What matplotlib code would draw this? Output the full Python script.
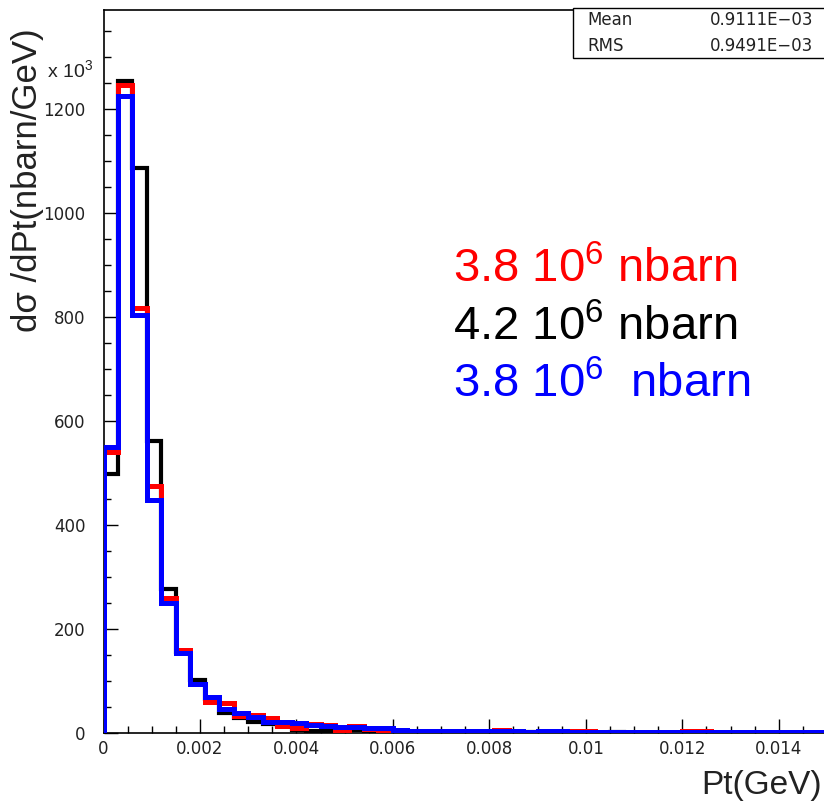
import numpy as np
import matplotlib
matplotlib.use("Agg")
import matplotlib.pyplot as plt
from matplotlib.patches import Rectangle

plt.rcParams['mathtext.fontset'] = 'custom'
plt.rcParams['mathtext.rm'] = 'Liberation Sans'

# ---- data (values in units of 10^3 nbarn/GeV) ----
bin_width = 0.0003
n_bins = 50
black_vals = [498, 1254, 1086, 562, 277, 155, 102, 65, 38, 28,
              21, 18, 14, 5, 3, 3, 6, 5, 4, 3,
              3, 2, 2, 2, 1, 1, 1, 1, 1, 1,
              1, 1, 1, 0, 0, 1, 0, 0, 0, 0,
              0, 0, 0, 0, 0, 0, 0, 0, 0, 0]
red_vals = [541, 1245, 817, 475, 260, 160, 94, 60, 57, 32,
            35, 28, 14, 9, 17, 15, 5, 13, 8, 6,
            5, 3, 3, 3, 3, 3, 3, 5, 2, 2,
            1, 1, 4, 4, 1, 1, 1, 1, 1, 1,
            4, 4, 1, 1, 1, 1, 1, 1, 1, 1]
blue_vals = [550, 1225, 804, 448, 250, 154, 95, 70, 46, 38,
             30, 22, 22, 19, 16, 13, 12, 12, 10, 9,
             5, 4, 4, 4, 4, 4, 4, 4, 3, 1,
             3, 3, 1, 1, 1, 1, 1, 1, 1, 1,
             1, 1, 1, 1, 1, 1, 1, 1, 1, 1]

xtick_vals = [0, 0.002, 0.004, 0.006, 0.008, 0.010, 0.012, 0.014]
xtick_labels = ["0", "0.002", "0.004", "0.006", "0.008", "0.01", "0.012", "0.014"]
ytick_vals = [0, 200, 400, 600, 800, 1000, 1200]
ytick_labels = ["0", "200", "400", "600", "800", "1000", "1200"]

stats_names = ["Mean", "RMS"]
stats_values = ["0.9111E\u221203", "0.9491E\u221203"]

xs_labels = [r"3.8 10$^{6}$ nbarn", r"4.2 10$^{6}$ nbarn", r"3.8 10$^{6}$  nbarn"]
xs_colors = ["#ff0000", "#000000", "#0000ff"]

# ---- figure ----
W, H = 824, 801
fig = plt.figure(figsize=(W / 100, H / 100), dpi=100)
ax = fig.add_axes([103.5 / W, (H - 733) / H, (827 - 103.5) / W, (733 - 10) / H])

edges = np.arange(n_bins + 1) * bin_width
ax.stairs(black_vals, edges, baseline=0, color="black", lw=3.0, zorder=3)
ax.stairs(red_vals, edges, baseline=0, color="#ff0000", lw=3.6, zorder=4)
ax.stairs(blue_vals, edges, baseline=0, color="#0000ff", lw=3.6, zorder=5)

ax.set_xlim(0, 0.015)
ax.set_ylim(0, 1390)

ax.set_xticks(xtick_vals)
ax.set_xticklabels(xtick_labels)
ax.set_xticks(np.arange(0, 0.0151, 0.0005), minor=True)
ax.set_yticks(ytick_vals)
ax.set_yticklabels(ytick_labels)
ax.set_yticks(np.arange(0, 1390, 50), minor=True)

ax.tick_params(axis="both", which="both", direction="in", top=False, right=False,
               width=1.0, labelsize=12, colors="black")
ax.tick_params(axis="both", which="major", length=10)
ax.tick_params(axis="both", which="minor", length=5)
ax.tick_params(axis="y", which="major", pad=13)
ax.tick_params(axis="x", which="major", pad=5)
for lab in ax.get_xticklabels() + ax.get_yticklabels():
    lab.set_color("#222222")
for sp in ax.spines.values():
    sp.set_linewidth(1.2)

# y label and exponent
fig.text(28 / W, (H - 180) / H, "d\u03c3 /dPt(nbarn/GeV)", rotation=90,
         ha="center", va="center", fontsize=25, family="Liberation Sans", color="#222222")
fig.text(47 / W, (H - 78) / H, r"x 10$^{3}$", ha="left", va="baseline",
         fontsize=14, family="Liberation Sans", color="#222222")

# x label
fig.text(822 / W, (H - 794) / H, "Pt(GeV)", ha="right", va="baseline",
         fontsize=24, family="Liberation Sans", color="#222222")

# cross-section annotations
baselines = [282, 340, 397]
for lbl, col, b in zip(xs_labels, xs_colors, baselines):
    fig.text(453 / W, (H - b) / H, lbl, color=col, ha="left", va="baseline",
             fontsize=34, family="Liberation Sans")

# stats box
box = Rectangle((573 / W, (H - 58) / H), (830 - 573) / W, 50 / H, transform=fig.transFigure,
                facecolor="white", edgecolor="black", lw=1.0, zorder=10)
fig.patches.append(box)
rows_y = [20, 46]
for name, val, yy in zip(stats_names, stats_values, rows_y):
    fig.text(587 / W, (H - yy) / H, name, ha="left", va="center", fontsize=12,
             color="#222222", zorder=11)
    fig.text(813 / W, (H - yy) / H, val, ha="right", va="center", fontsize=12,
             color="#222222", zorder=11)

fig.savefig("out.png", dpi=100)
